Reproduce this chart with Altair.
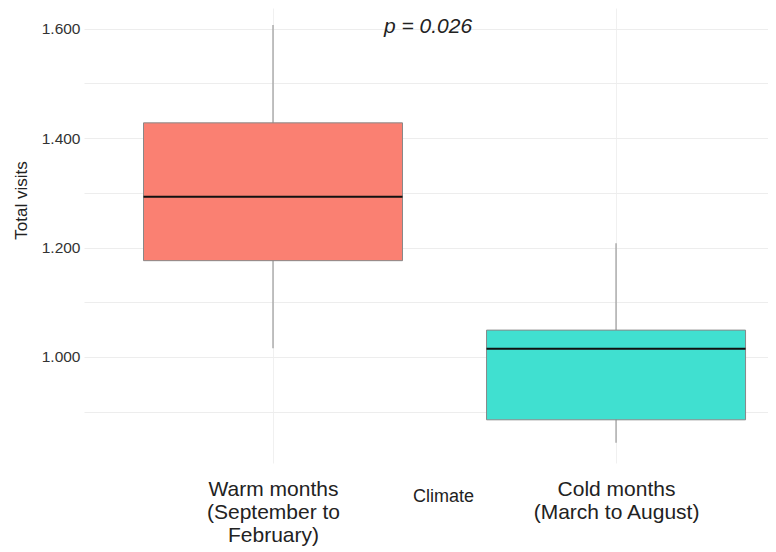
import altair as alt
import pandas as pd

climate = ["Warm months (September to February)", "Cold months (March to August)"]
position = [1, 2]
lower_whisker = [1016, 843]
q1 = [1176, 885]
median = [1293, 1015]
q3 = [1428, 1049]
upper_whisker = [1607, 1208]
fill_colors = ["#FA8072", "#40E0D0"]

y_ticks = [900, 1000, 1100, 1200, 1300, 1400, 1500, 1600]
p_label = "p = 0.026"

df = pd.DataFrame({
    "climate": climate,
    "pos": position,
    "low": lower_whisker,
    "q1": q1,
    "median": median,
    "q3": q3,
    "high": upper_whisker,
})

xscale = alt.Scale(domain=[0.449, 2.443], nice=False, zero=False)
yscale = alt.Scale(domain=[806, 1638], nice=False, zero=False)

x_axis = alt.Axis(
    values=position,
    labelExpr="datum.value == 1 ? ['Warm months', '(September to', 'February)'] : ['Cold months', '(March to August)']",
    labelFont="Liberation Sans", labelFontSize=21, labelColor="#222222",
    labelLineHeight=23, labelPadding=15, labelBaseline="top",
    ticks=False, domain=False, grid=True, gridColor="#f0f0f0", gridWidth=1,
    title="Climate", titleFont="Liberation Sans", titleFontSize=18, titleFontWeight="normal",
    titleColor="#222222", titleX=359, titleY=33, titleBaseline="middle", titleAlign="center",
)
y_axis = alt.Axis(
    values=y_ticks,
    labelExpr="datum.value % 200 == 0 ? replace(format(datum.value, ',.0f'), ',', '.') : ''",
    labelFont="Liberation Sans", labelFontSize=15.5, labelColor="#333333", labelPadding=4,
    ticks=False, tickSize=0, domain=False, grid=True, gridColor="#ededed", gridWidth=1,
    title="Total visits", titleFont="Liberation Sans", titleFontSize=17, titleFontWeight="normal",
    titleColor="#222222", titleX=-63, titleY=192, titleAngle=-90, titleBaseline="middle", titleAlign="center",
)

base = alt.Chart(df).transform_calculate(
    x_lo="datum.pos - 0.3775", x_hi="datum.pos + 0.3775"
)

whisker = base.mark_rule(color="#a0a0a0", strokeWidth=1.3).encode(
    x=alt.X("pos:Q", scale=xscale, axis=x_axis),
    y=alt.Y("low:Q", scale=yscale, axis=y_axis),
    y2="high:Q",
)

box = base.mark_rect(stroke="#888888", strokeWidth=1).encode(
    x=alt.X("x_lo:Q", scale=xscale),
    x2="x_hi:Q",
    y=alt.Y("q1:Q", scale=yscale),
    y2="q3:Q",
    fill=alt.Fill("climate:N", scale=alt.Scale(domain=climate, range=fill_colors), legend=None),
)

med = base.mark_rule(color="#111111", strokeWidth=2).encode(
    x=alt.X("x_lo:Q", scale=xscale),
    x2="x_hi:Q",
    y=alt.Y("median:Q", scale=yscale),
)

annot = alt.Chart(pd.DataFrame({"x": [1.452], "y": [1603], "t": [p_label]})).mark_text(
    font="Liberation Sans", fontSize=21, fontStyle="italic", color="#222222", baseline="middle"
).encode(
    x=alt.X("x:Q", scale=xscale),
    y=alt.Y("y:Q", scale=yscale),
    text="t:N",
)

chart = alt.layer(whisker, box, med, annot).properties(
    width=684, height=455,
    autosize=alt.AutoSizeParams(type="none"),
    padding={"left": 76, "top": 0, "right": 0, "bottom": 88},
    background="white",
).configure_view(stroke=None)

chart.save("out.html", embed_options={"renderer": "svg", "actions": False})
